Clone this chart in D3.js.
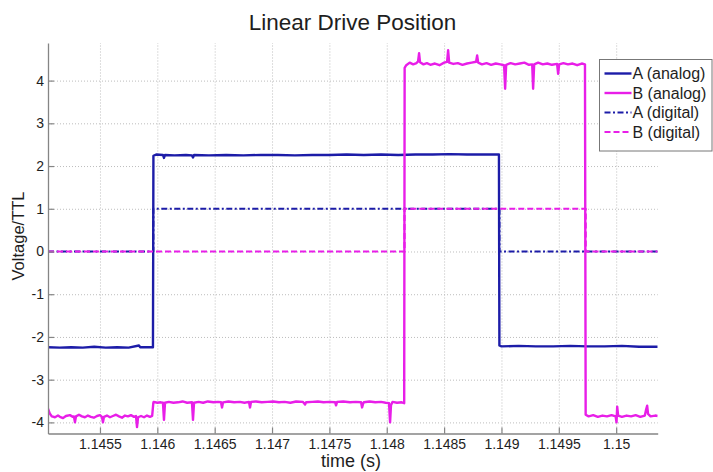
<!DOCTYPE html>
<html>
<head>
<meta charset="utf-8">
<script src="https://cdn.jsdelivr.net/npm/d3@7"></script>
<style>
  html, body { margin: 0; padding: 0; background: #fff; }
  svg { display: block; font-family: "Liberation Sans", Arial, sans-serif; }
</style>
</head>
<body>
<svg id="chart" width="713" height="472"></svg>
<script>
// ---- data -------------------------------------------------------------
const titleText = "Linear Drive Position";
const xLabel = "time (s)";
const yLabel = "Voltage/TTL";

const timeTicks = [1.1455, 1.146, 1.1465, 1.147, 1.1475, 1.148, 1.1485, 1.149, 1.1495, 1.15];
const timeTickLabels = ["1.1455", "1.146", "1.1465", "1.147", "1.1475", "1.148", "1.1485", "1.149", "1.1495", "1.15"];
const voltTicks = [-4, -3, -2, -1, 0, 1, 2, 3, 4];
const voltTickLabels = ["-4", "-3", "-2", "-1", "0", "1", "2", "3", "4"];

const seriesNames = ["A (analog)", "B (analog)", "A (digital)", "B (digital)"];

// [time (s), voltage]
const aAnalog = [
  [1.145047,-2.24],[1.145150,-2.25],[1.145250,-2.24],[1.145350,-2.25],[1.145450,-2.23],
  [1.145550,-2.25],[1.145650,-2.24],[1.145750,-2.25],[1.145840,-2.20],[1.145850,-2.24],
  [1.145962,-2.24],[1.145966,2.24],[1.145990,2.27],[1.146049,2.26],[1.146058,2.19],
  [1.146067,2.26],[1.146150,2.25],[1.146250,2.26],[1.146302,2.25],[1.146311,2.20],
  [1.146320,2.26],[1.146450,2.25],[1.146600,2.26],[1.146750,2.25],[1.146900,2.26],
  [1.147050,2.26],[1.147200,2.25],[1.147350,2.26],[1.147500,2.26],[1.147650,2.27],
  [1.147800,2.26],[1.147950,2.27],[1.148100,2.26],[1.148250,2.27],[1.148400,2.27],
  [1.148550,2.28],[1.148700,2.27],[1.148850,2.27],[1.148978,2.27],[1.148982,-2.20],
  [1.149000,-2.22],[1.149150,-2.21],[1.149300,-2.22],[1.149450,-2.22],[1.149600,-2.21],
  [1.149750,-2.22],[1.149900,-2.22],[1.150050,-2.21],[1.150200,-2.23],[1.150362,-2.23]
];

const bAnalog = [
  [1.145047,-3.68],[1.145064,-3.80],[1.145081,-3.86],[1.145108,-3.88],[1.145134,-3.84],
  [1.145151,-3.87],[1.145178,-3.90],[1.145203,-3.85],[1.145238,-3.83],[1.145264,-3.87],
  [1.145273,-3.86],[1.145282,-4.00],[1.145291,-3.86],[1.145317,-3.82],[1.145343,-3.86],
  [1.145369,-3.88],[1.145395,-3.84],[1.145421,-3.87],[1.145447,-3.89],[1.145474,-3.85],
  [1.145500,-3.83],[1.145517,-3.87],[1.145526,-4.00],[1.145535,-3.87],[1.145561,-3.84],
  [1.145587,-3.88],[1.145613,-3.85],[1.145640,-3.82],[1.145666,-3.86],[1.145692,-3.89],
  [1.145718,-3.84],[1.145744,-3.86],[1.145770,-3.83],[1.145797,-3.87],[1.145814,-3.85],
  [1.145823,-4.11],[1.145832,-3.88],[1.145858,-3.85],[1.145884,-3.88],[1.145910,-3.84],
  [1.145936,-3.87],[1.145955,-3.85],[1.145965,-3.55],
  [1.145968,-3.52],[1.146000,-3.54],[1.146030,-3.53],[1.146049,-3.54],[1.146058,-3.94],
  [1.146067,-3.54],[1.146100,-3.52],[1.146140,-3.54],[1.146180,-3.53],[1.146220,-3.51],
  [1.146260,-3.54],[1.146302,-3.53],[1.146311,-3.94],[1.146320,-3.54],[1.146360,-3.52],
  [1.146400,-3.54],[1.146440,-3.51],[1.146490,-3.53],[1.146530,-3.52],[1.146555,-3.53],
  [1.146564,-3.65],[1.146573,-3.53],[1.146620,-3.51],[1.146670,-3.53],[1.146720,-3.52],
  [1.146760,-3.54],[1.146799,-3.52],[1.146808,-3.65],[1.146817,-3.52],[1.146860,-3.51],
  [1.146910,-3.53],[1.146960,-3.52],[1.147010,-3.51],[1.147060,-3.53],[1.147110,-3.52],
  [1.147160,-3.54],[1.147210,-3.51],[1.147270,-3.52],[1.147288,-3.58],[1.147297,-3.53],
  [1.147350,-3.52],[1.147400,-3.51],[1.147450,-3.53],[1.147500,-3.52],[1.147550,-3.53],
  [1.147558,-3.60],[1.147567,-3.52],[1.147620,-3.51],[1.147680,-3.53],[1.147730,-3.52],
  [1.147776,-3.53],[1.147785,-3.65],[1.147794,-3.56],[1.147800,-3.53],[1.147850,-3.51],
  [1.147900,-3.53],[1.147950,-3.52],[1.147990,-3.54],[1.148020,-3.55],[1.148029,-4.00],
  [1.148037,-3.60],[1.148050,-3.52],[1.148090,-3.54],[1.148130,-3.53],[1.148152,-3.55],
  [1.148156,4.30],[1.148170,4.36],[1.148200,4.42],[1.148230,4.38],[1.148260,4.41],
  [1.148273,4.45],[1.148282,4.64],[1.148290,4.43],[1.148320,4.38],[1.148350,4.41],
  [1.148380,4.37],[1.148420,4.40],[1.148460,4.36],[1.148500,4.42],[1.148526,4.44],
  [1.148535,4.71],[1.148544,4.42],[1.148580,4.39],[1.148620,4.41],[1.148660,4.37],
  [1.148700,4.40],[1.148740,4.42],[1.148779,4.44],[1.148788,4.59],[1.148797,4.42],
  [1.148830,4.38],[1.148870,4.41],[1.148910,4.37],[1.148950,4.40],[1.148990,4.38],
  [1.149023,4.36],[1.149032,3.81],[1.149041,4.37],[1.149080,4.41],[1.149120,4.38],
  [1.149160,4.40],[1.149200,4.42],[1.149240,4.37],[1.149268,4.38],[1.149276,3.81],
  [1.149285,4.38],[1.149320,4.42],[1.149360,4.38],[1.149400,4.40],[1.149440,4.37],
  [1.149485,4.39],[1.149494,4.16],[1.149503,4.38],[1.149540,4.41],[1.149580,4.38],
  [1.149620,4.40],[1.149660,4.36],[1.149700,4.40],[1.149728,4.38],
  [1.149734,-3.82],[1.149760,-3.86],[1.149800,-3.83],[1.149840,-3.87],[1.149880,-3.84],
  [1.149920,-3.86],[1.149960,-3.83],[1.149995,-3.86],[1.150003,-4.00],[1.150009,-3.63],
  [1.150017,-3.84],[1.150050,-3.87],[1.150090,-3.84],[1.150130,-3.86],[1.150170,-3.83],
  [1.150210,-3.87],[1.150250,-3.84],[1.150261,-3.70],[1.150270,-3.61],[1.150278,-3.80],
  [1.150300,-3.86],[1.150340,-3.84],[1.150362,-3.85]
];

const aDigital = [
  [1.145047,0],[1.145965,0],[1.145965,1],[1.148982,1],[1.148982,0],[1.150362,0]
];
const bDigital = [
  [1.145047,0],[1.148155,0],[1.148155,1],[1.149734,1],[1.149734,0],[1.150362,0]
];

// ---- layout & styles ---------------------------------------------------
const plot = { left: 48, right: 657.7, top: 43, bottom: 433.5 };
const blue = "#1c1ca8";
const magenta = "#e81ee8";
const styles = [
  { data: aAnalog,  color: blue,    width: 2.4, dash: null },
  { data: bAnalog,  color: magenta, width: 2.4, dash: null },
  { data: aDigital, color: blue,    width: 2.2, dash: "6,2.5,2,2.5" },
  { data: bDigital, color: magenta, width: 2.2, dash: "6,3" }
];

const svg = d3.select("#chart");

const x = d3.scaleLinear().domain([1.145047, 1.150362]).range([plot.left, plot.right]);
const y = d3.scaleLinear().domain([-4.26, 4.88]).range([plot.bottom, plot.top]);

// grid
const grid = svg.append("g").attr("class", "grid");
grid.append("g")
  .attr("transform", `translate(0,${plot.bottom})`)
  .call(d3.axisBottom(x).tickValues(timeTicks).tickSize(-(plot.bottom - plot.top)).tickFormat(""))
  .call(g => g.select(".domain").remove());
grid.append("g")
  .attr("transform", `translate(${plot.left},0)`)
  .call(d3.axisLeft(y).tickValues(voltTicks).tickSize(-(plot.right - plot.left)).tickFormat(""))
  .call(g => g.select(".domain").remove());
grid.selectAll("line")
  .attr("stroke", "#bdbdbd")
  .attr("stroke-width", 1)
  .attr("stroke-dasharray", "1,2");

// series
svg.append("clipPath").attr("id", "plotclip")
  .append("rect")
  .attr("x", plot.left).attr("y", plot.top)
  .attr("width", plot.right - plot.left).attr("height", plot.bottom - plot.top);

const line = d3.line().x(d => x(d[0])).y(d => y(d[1]));
svg.append("g").attr("clip-path", "url(#plotclip)")
  .selectAll("path")
  .data(styles)
  .join("path")
  .attr("d", s => line(s.data))
  .attr("fill", "none")
  .attr("stroke", s => s.color)
  .attr("stroke-width", s => s.width)
  .attr("stroke-linejoin", "round")
  .attr("stroke-dasharray", s => s.dash);

// axes
const axisColor = "#858585";
const xAxis = svg.append("g")
  .attr("transform", `translate(0,${plot.bottom})`)
  .call(d3.axisBottom(x).tickValues(timeTicks)
    .tickFormat((d, i) => timeTickLabels[i])
    .tickSizeInner(-6).tickSizeOuter(0).tickPadding(6));
const yAxis = svg.append("g")
  .attr("transform", `translate(${plot.left},0)`)
  .call(d3.axisLeft(y).tickValues(voltTicks)
    .tickFormat((d, i) => voltTickLabels[i])
    .tickSizeInner(-6).tickSizeOuter(0).tickPadding(4));
[xAxis, yAxis].forEach(a => {
  a.select(".domain").attr("stroke", axisColor).attr("stroke-width", 1.3);
  a.selectAll(".tick line").attr("stroke", axisColor).attr("stroke-width", 1.2);
  a.selectAll(".tick text")
    .attr("fill", "#1e1e1e")
    .style("font-size", "14px")
    .style("font-family", "'Liberation Sans', Arial, sans-serif");
});

// titles
svg.append("text")
  .attr("x", 352.5).attr("y", 30)
  .attr("text-anchor", "middle")
  .attr("fill", "#1e1e1e")
  .style("font-size", "22.5px")
  .text(titleText);
svg.append("text")
  .attr("x", 351).attr("y", 467)
  .attr("text-anchor", "middle")
  .attr("fill", "#1e1e1e")
  .style("font-size", "18px")
  .text(xLabel);
svg.append("text")
  .attr("transform", "translate(24,236) rotate(-90)")
  .attr("text-anchor", "middle")
  .attr("fill", "#1e1e1e")
  .style("font-size", "16.5px")
  .text(yLabel);

// legend
const legend = svg.append("g").attr("transform", "translate(599.5,59.5)");
legend.append("rect")
  .attr("width", 112.5).attr("height", 91.5)
  .attr("fill", "#fff")
  .attr("stroke", "#777").attr("stroke-width", 1);
const rows = legend.selectAll("g.row")
  .data(styles)
  .join("g")
  .attr("class", "row")
  .attr("transform", (d, i) => `translate(0,${14 + i * 19.5})`);
rows.append("line")
  .attr("x1", 5).attr("x2", 32)
  .attr("stroke", d => d.color)
  .attr("stroke-width", d => d.width)
  .attr("stroke-dasharray", d => d.dash);
rows.append("text")
  .attr("x", 33).attr("dy", "0.35em")
  .attr("fill", "#1e1e1e")
  .style("font-size", "16px")
  .text((d, i) => seriesNames[i]);
</script>
</body>
</html>
